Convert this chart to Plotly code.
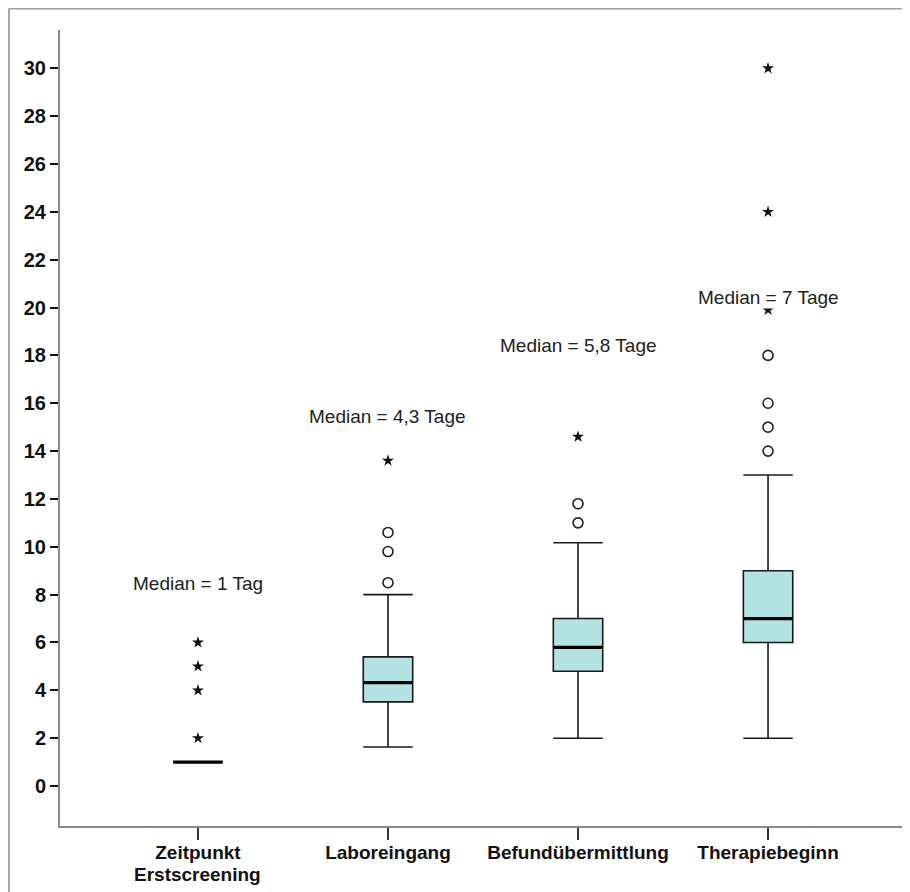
import plotly.graph_objects as go

# ---- data ----
categories = ["Zeitpunkt", "Laboreingang", "Befundübermittlung", "Therapiebeginn"]
category_second_line = ["Erstscreening", "", "", ""]
q1 = [1, 3.52, 4.8, 6]
median = [1, 4.32, 5.8, 7]
q3 = [1, 5.4, 7, 9]
lowerfence = [1, 1.63, 2, 2]
upperfence = [1, 8, 10.17, 13]
circle_outliers = [[], [8.5, 9.8, 10.6], [11.0, 11.8], [14, 15, 16, 18]]
star_outliers = [[2, 4, 5, 6], [13.6], [14.6], [19.9, 24, 30]]
median_labels = ["Median = 1 Tag", "Median = 4,3 Tage", "Median = 5,8 Tage", "Median = 7 Tage"]
label_y = [8.45, 15.45, 18.4, 20.4]
yticks = list(range(0, 31, 2))

# page has an 8px body margin, so the figure is placed at (8, 8)
W, H = 902, 884
ML, MT, MB = 52, 22, 66
box_w = 0.26
fill = "#b2e2e2"
line_c = "#1a1a1a"
xfont = dict(family="Liberation Sans, Arial, sans-serif", size=19, color="#111", weight="bold")

fig = go.Figure()
for i in range(len(categories)):
    fig.add_trace(go.Box(
        x=[i], q1=[q1[i]], median=[median[i]], q3=[q3[i]],
        lowerfence=[lowerfence[i]], upperfence=[upperfence[i]],
        width=box_w, whiskerwidth=1, boxpoints=False,
        fillcolor=fill, line=dict(color=line_c, width=1.6),
        showlegend=False, hoverinfo="skip"))
    fig.add_trace(go.Scatter(
        x=[i - box_w / 2, i + box_w / 2], y=[median[i], median[i]],
        mode="lines", line=dict(color="black", width=3.2),
        showlegend=False, hoverinfo="skip"))
    if circle_outliers[i]:
        fig.add_trace(go.Scatter(
            x=[i] * len(circle_outliers[i]), y=circle_outliers[i], mode="markers",
            marker=dict(symbol="circle-open", size=10, color="#222", line=dict(width=1.6)),
            showlegend=False, hoverinfo="skip"))
    if star_outliers[i]:
        fig.add_trace(go.Scatter(
            x=[i] * len(star_outliers[i]), y=star_outliers[i], mode="markers",
            marker=dict(symbol="star", size=9, color="#111"),
            showlegend=False, hoverinfo="skip"))

for i, t in enumerate(median_labels):
    fig.add_annotation(x=i, y=label_y[i], text=t, showarrow=False,
                       font=dict(family="Liberation Sans, Arial, sans-serif", size=19, color="#222"),
                       bgcolor="white", borderpad=0)

pw = W - ML - 4
ph = H - MT - MB
for i, t in enumerate(category_second_line):
    if t:
        fig.add_annotation(x=i, xref="x", y=-(874 - 8 - (H - MB)) / ph, yref="paper",
                           text=t, showarrow=False, yanchor="middle", font=xfont)

fx = (1 - ML) / pw
fy = 1 + (MT - 0.5) / ph
fig.add_shape(type="line", xref="paper", yref="paper", x0=fx, x1=fx, y0=-0.2, y1=fy,
              line=dict(color="#a0a0a0", width=2))
fig.add_shape(type="line", xref="paper", yref="paper", x0=fx, x1=1.05, y0=fy, y1=fy,
              line=dict(color="#a0a0a0", width=2))

fig.update_layout(
    width=W, height=H,
    margin=dict(l=ML, r=0, t=MT, b=MB, autoexpand=False),
    plot_bgcolor="white", paper_bgcolor="white",
    showlegend=False,
    xaxis=dict(range=[-0.726, 3.726 + 4 / 190], tickmode="array", tickvals=list(range(len(categories))),
               ticktext=categories, showgrid=False, zeroline=False,
               showline=True, linecolor="#8a8a8a", linewidth=2,
               ticks="outside", ticklen=12, tickwidth=1.5, tickcolor="#333",
               ticklabelstandoff=-4, tickfont=xfont),
    yaxis=dict(range=[-1.67, 31.6], tickmode="array", tickvals=yticks,
               showgrid=False, zeroline=False,
               showline=True, linecolor="#8a8a8a", linewidth=2,
               ticks="outside", ticklen=8, tickwidth=2, tickcolor="#111",
               tickfont=dict(family="Liberation Sans Narrow, Liberation Sans, Arial, sans-serif", size=20, color="#111", weight="bold")),
)

fig.write_html("out.html")
